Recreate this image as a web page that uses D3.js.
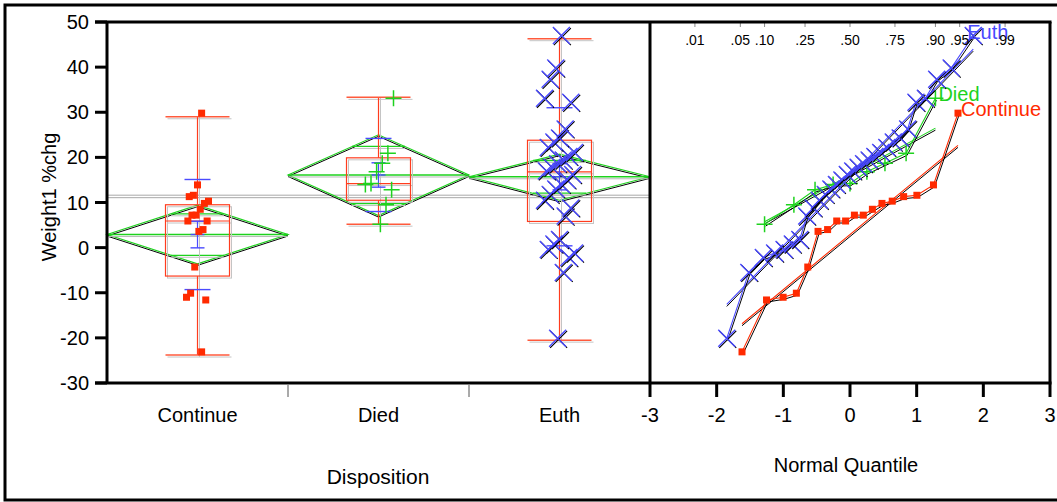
<!DOCTYPE html>
<html>
<head>
<meta charset="utf-8">
<script src="https://cdn.jsdelivr.net/npm/d3@7"></script>
<style>
body { margin: 0; background: #fff; }
text { font-family: 'Liberation Sans', Arial, sans-serif; }
</style>
</head>
<body>
<div id="chart"></div>
<script>
const categories = ['Continue', 'Died', 'Euth'];
const continueVals = [-23.1, -11.6, -11.0, -10.1, -4.3, 3.6, 4.0, 5.9, 5.9, 7.2, 7.2, 8.5, 9.8, 10.3, 11.3, 11.6, 13.9, 29.8];
const diedVals = [5.2, 9.5, 12.8, 14.0, 14.2, 16.8, 18.7, 20.9, 33.1];
const euthVals = [-20.1, -5.5, -2.2, -1.2, -0.4, 0.8, 1.8, 7.0, 8.8, 10.5, 11.8, 13.0, 14.0, 15.0, 16.2, 17.0, 17.8, 18.6, 19.4, 20.2, 21.1, 22.2, 23.4, 24.3, 26.3, 32.2, 33.1, 37.3, 39.8, 47.0];

// summary stats
const groupMeans = [2.9, 16.1, 15.7];
const diamondLow = [-3.6, 7.1, 10.5];
const diamondHigh = [9.4, 25.0, 20.7];
const boxQ1 = [-6.3, 10.5, 5.8];
const boxMedian = [5.9, 14.2, 16.8];
const boxQ3 = [9.5, 19.9, 23.8];
const whiskerLow = [-23.8, 5.2, -20.5];
const whiskerHigh = [29.0, 33.3, 46.3];
const groupSD = [12.2, 8.1, 15.3];
const groupSE = [2.95, 2.7, 2.9];
const grandMean = 11.4;

const yTicks = [-30, -20, -10, 0, 10, 20, 30, 40, 50];
const qTicks = [-3, -2, -1, 0, 1, 2, 3];
const probValues = [0.01, 0.05, 0.10, 0.25, 0.50, 0.75, 0.90, 0.95, 0.99];
const probLabels = ['.01', '.05', '.10', '.25', '.50', '.75', '.90', '.95', '.99'];

const groupColors = ['#ff2a00', '#1ed21e', '#4848ff'];
const groupData = [continueVals, diedVals, euthVals];

const width = 1057;
const height = 502;
const leftX = 107;
const midX = 650;
const rightX = 1050;
const topY = 22;
const bottomY = 383;

const svg = d3.select('#chart').append('svg').attr('width', width).attr('height', height);

const y = d3.scaleLinear().domain([-30, 50]).range([bottomY, topY]);
const x = d3.scaleBand().domain(categories).range([leftX, midX]);
const q = d3.scaleLinear().domain([-3, 3]).range([midX, rightX]);

// inverse normal cdf (Acklam)
function probit(p) {
    const a = [-39.69683028665376, 220.9460984245205, -275.9285104469687, 138.3577518672690, -30.66479806614716, 2.506628277459239];
    const b = [-54.47609879822406, 161.5858368580409, -155.6989798598866, 66.80131188771972, -13.28068155288572];
    const c = [-0.007784894002430293, -0.3223964580411365, -2.400758277161838, -2.549732539343734, 4.374664141464968, 2.938163982698783];
    const d = [0.007784695709041462, 0.3224671290700398, 2.445134137142996, 3.754408661907416];
    const pl = 0.02425;
    let qq, r;
    if (p < pl) {
        qq = Math.sqrt(-2 * Math.log(p));
        return (((((c[0]*qq+c[1])*qq+c[2])*qq+c[3])*qq+c[4])*qq+c[5]) / ((((d[0]*qq+d[1])*qq+d[2])*qq+d[3])*qq+1);
    }
    if (p > 1 - pl) {
        qq = Math.sqrt(-2 * Math.log(1 - p));
        return -(((((c[0]*qq+c[1])*qq+c[2])*qq+c[3])*qq+c[4])*qq+c[5]) / ((((d[0]*qq+d[1])*qq+d[2])*qq+d[3])*qq+1);
    }
    qq = p - 0.5;
    r = qq * qq;
    return (((((a[0]*r+a[1])*r+a[2])*r+a[3])*r+a[4])*r+a[5])*qq / (((((b[0]*r+b[1])*r+b[2])*r+b[3])*r+b[4])*r+1);
}

function jitter(i) {
    return (((i * 37 + 11) % 17) / 16 - 0.5) * 2;
}

function marker(g, gi, cx, cy) {
    if (gi === 0) {
        g.append('rect').attr('x', cx - 3.5).attr('y', cy - 3.5).attr('width', 7).attr('height', 7).attr('fill', groupColors[0]);
    } else if (gi === 1) {
        g.append('path').attr('d', `M${cx - 8},${cy}H${cx + 8}M${cx},${cy - 8}V${cy + 8}`).attr('stroke', groupColors[1]).attr('stroke-width', 1.5).attr('fill', 'none');
    } else {
        const s = 8.5;
        g.append('path').attr('d', `M${cx - s + 1},${cy - s + 1}L${cx + s + 1},${cy + s + 1}M${cx - s + 1},${cy + s + 1}L${cx + s + 1},${cy - s + 1}`).attr('stroke', '#000').attr('stroke-width', 1.1).attr('fill', 'none');
        g.append('path').attr('d', `M${cx - s},${cy - s}L${cx + s},${cy + s}M${cx - s},${cy + s}L${cx + s},${cy - s}`).attr('stroke', groupColors[2]).attr('stroke-width', 1.4).attr('fill', 'none');
    }
}

function hline(g, x1, x2, yy, color, w) {
    g.append('line').attr('x1', x1).attr('x2', x2).attr('y1', yy).attr('y2', yy).attr('stroke', color).attr('stroke-width', w || 1);
}
function vline(g, xx, y1, y2, color, w) {
    g.append('line').attr('x1', xx).attr('x2', xx).attr('y1', y1).attr('y2', y2).attr('stroke', color).attr('stroke-width', w || 1);
}

const left = svg.append('g');

// grand mean
hline(left, leftX, midX, y(grandMean) - 1, '#a8a8a8');
hline(left, leftX, midX, y(grandMean) + 1.5, '#a8a8a8');

const green = '#1ed21e';
const bw = x.bandwidth();

categories.forEach((cat, i) => {
    const x0 = x(cat);
    const cx = x0 + bw / 2;
    const m = groupMeans[i];

    // means diamond
    const dia = [[x0, y(m)], [cx, y(diamondHigh[i])], [x0 + bw, y(m)], [cx, y(diamondLow[i])]];
    left.append('path').attr('d', 'M' + dia.map(p => [p[0], p[1] + 1.5].join(',')).join('L') + 'Z').attr('fill', 'none').attr('stroke', '#000').attr('stroke-width', 1);
    left.append('path').attr('d', 'M' + dia.map(p => p.join(',')).join('L') + 'Z').attr('fill', 'none').attr('stroke', green).attr('stroke-width', 1.2);

    hline(left, x0, x0 + bw, y(m) + 2, '#b8b8b8');
    hline(left, x0, x0 + bw, y(m), green, 1.5);

    // overlap marks
    const half = (diamondHigh[i] - diamondLow[i]) / 2 / Math.SQRT2;
    const ow = bw * (1 - 1 / Math.SQRT2) / 2;
    [m + half, m - half].forEach(v => {
        hline(left, cx - ow, cx + ow, y(v) + 2, '#c0c0c0');
        hline(left, cx - ow, cx + ow, y(v), green, 1.3);
    });

    // box plot
    const boxW = 64;
    const bx = cx - boxW / 2;
    left.append('rect').attr('x', bx + 2).attr('y', y(boxQ3[i]) + 2).attr('width', boxW).attr('height', y(boxQ1[i]) - y(boxQ3[i])).attr('fill', 'none').attr('stroke', '#c4c4c4');
    vline(left, cx + 2, y(whiskerHigh[i]), y(whiskerLow[i]) + 2, '#c4c4c4');
    hline(left, bx + 2, bx + boxW + 2, y(whiskerHigh[i]) + 2, '#c4c4c4');
    hline(left, bx + 2, bx + boxW + 2, y(whiskerLow[i]) + 2, '#c4c4c4');
    hline(left, bx + 2, bx + boxW + 2, y(boxMedian[i]) + 2, '#c4c4c4');
    vline(left, cx, y(whiskerHigh[i]), y(boxQ3[i]), '#ff3c1e', 1.2);
    vline(left, cx, y(boxQ1[i]), y(whiskerLow[i]), '#ff3c1e', 1.2);
    hline(left, bx, bx + boxW, y(whiskerHigh[i]), '#ff5a3c', 1.5);
    hline(left, bx, bx + boxW, y(whiskerLow[i]), '#ff5a3c', 1.5);
    left.append('rect').attr('x', bx).attr('y', y(boxQ3[i])).attr('width', boxW).attr('height', y(boxQ1[i]) - y(boxQ3[i])).attr('fill', 'none').attr('stroke', '#ff3c1e').attr('stroke-width', 1.2);
    hline(left, bx, bx + boxW, y(boxMedian[i]), '#ff3c1e', 1.2);

    // sd lines and error bars
    const blue = '#4a4aff';
    hline(left, cx - 13, cx + 13, y(m + groupSD[i]), blue, 1.4);
    hline(left, cx - 13, cx + 13, y(m - groupSD[i]), blue, 1.4);
    vline(left, cx, y(m + groupSE[i]), y(m - groupSE[i]), blue, 1.2);
    hline(left, cx - 7, cx + 7, y(m + groupSE[i]), blue, 1.4);
    hline(left, cx - 7, cx + 7, y(m - groupSE[i]), blue, 1.4);
    hline(left, cx - 7, cx + 7, y(m), blue, 1.4);
});

// points
const spread = [11, 15, 15];
categories.forEach((cat, i) => {
    const cx = x(cat) + bw / 2;
    groupData[i].forEach((v, j) => marker(left, i, cx + jitter(j + i * 5) * spread[i], y(v)));
});

// normal quantile plot
const right = svg.append('g');
groupData.forEach((vals, i) => {
    const n = vals.length;
    const pts = vals.slice().sort(d3.ascending).map((v, j) => [q(probit((j + 1) / (n + 1))), y(v)]);
    const qLo = probit(1 / (n + 1));
    const qHi = probit(n / (n + 1));
    const color = groupColors[i];
    const fit = [[qLo, groupMeans[i] + groupSD[i] * qLo], [qHi, groupMeans[i] + groupSD[i] * qHi]];
    right.append('line').attr('x1', q(fit[0][0])).attr('y1', y(fit[0][1]) + 2).attr('x2', q(fit[1][0])).attr('y2', y(fit[1][1]) + 2).attr('stroke', '#000').attr('stroke-width', 1);
    right.append('line').attr('x1', q(fit[0][0])).attr('y1', y(fit[0][1])).attr('x2', q(fit[1][0])).attr('y2', y(fit[1][1])).attr('stroke', color).attr('stroke-width', 1.1);
    const line = d3.line();
    right.append('path').attr('d', line(pts.map(p => [p[0] + 1, p[1] + 2]))).attr('fill', 'none').attr('stroke', '#000').attr('stroke-width', 1);
    right.append('path').attr('d', line(pts)).attr('fill', 'none').attr('stroke', color).attr('stroke-width', 1.1);
    pts.forEach(p => marker(right, i, p[0], p[1]));
    const last = pts[pts.length - 1];
    const dx = i === 2 ? -6 : 3;
    right.append('text').attr('x', last[0] + dx).attr('y', last[1] + 3).attr('font-size', 20).attr('fill', color).text(categories[i]);
});

// probability ticks
probValues.forEach((p, i) => {
    vline(svg, q(probit(p)), topY, topY + 5, '#888');
    svg.append('text').attr('x', q(probit(p))).attr('y', 45).attr('text-anchor', 'middle').attr('font-size', 14).text(probLabels[i]);
});

// frames and axes
svg.append('rect').attr('x', 5).attr('y', 5).attr('width', 1065).attr('height', 495).attr('fill', 'none').attr('stroke', '#000').attr('stroke-width', 3);
hline(svg, 95, rightX + 1.5, topY, '#000', 3);
hline(svg, 95, rightX + 1.5, bottomY, '#000', 3);
vline(svg, leftX, topY, bottomY, '#000', 3);
vline(svg, midX, topY, bottomY, '#000', 3);
vline(svg, rightX, topY, bottomY, '#000', 3);

yTicks.forEach(t => {
    hline(svg, 95, leftX, y(t), '#000', 3);
    svg.append('text').attr('x', 89).attr('y', y(t) + 7).attr('text-anchor', 'end').attr('font-size', 20).text(t);
});

qTicks.forEach(t => {
    vline(svg, q(t), bottomY, 397, '#000', 3);
    svg.append('text').attr('x', q(t)).attr('y', 422).attr('text-anchor', 'middle').attr('font-size', 20).text(t);
});

categories.forEach((cat, i) => {
    svg.append('text').attr('x', x(cat) + bw / 2).attr('y', 422).attr('text-anchor', 'middle').attr('font-size', 20).text(cat);
    if (i > 0) vline(svg, x(cat), bottomY + 2, 397, '#555', 1);
});

svg.append('text').attr('transform', 'translate(56,197) rotate(-90)').attr('text-anchor', 'middle').attr('font-size', 20).text('Weight1  %chg');
svg.append('text').attr('x', 378).attr('y', 484).attr('text-anchor', 'middle').attr('font-size', 21).text('Disposition');
svg.append('text').attr('x', 846).attr('y', 472).attr('text-anchor', 'middle').attr('font-size', 20).text('Normal Quantile');
</script>
</body>
</html>
